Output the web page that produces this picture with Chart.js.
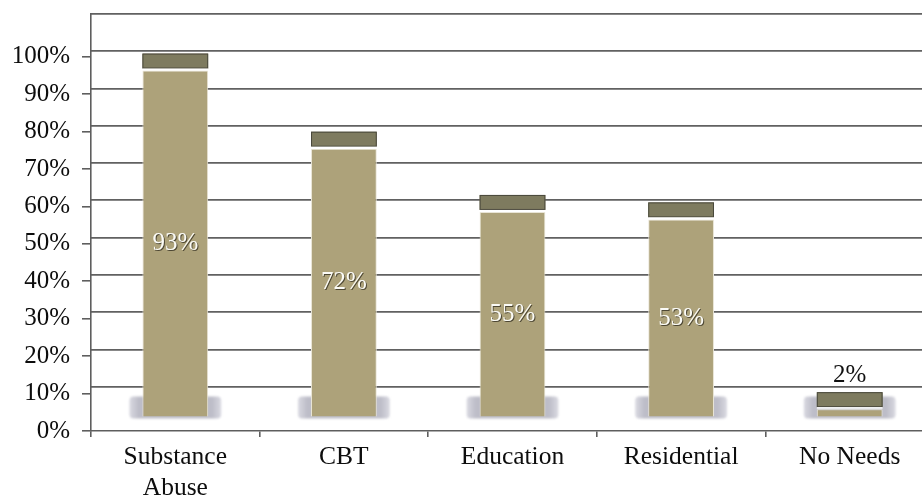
<!DOCTYPE html>
<html>
<head>
<meta charset="utf-8">
<script src="https://cdn.jsdelivr.net/npm/chart.js@4/dist/chart.umd.min.js"></script>
<style>
  html, body { margin: 0; padding: 0; background: #fff; overflow: hidden; }
  canvas { display: block; }
</style>
</head>
<body>
<canvas id="needs-chart" width="934" height="498"></canvas>
<script>
const categories = [['Substance', 'Abuse'], 'CBT', 'Education', 'Residential', 'No Needs'];
const percentages = [93, 72, 55, 53, 2];
const tickStep = 10;
const tickMax = 100;

const serif = '"Liberation Serif", "Times New Roman", serif';

// pedestal shadow behind each column (3D floor look)
const pedestal = {
  id: 'pedestal',
  beforeDatasetsDraw(chart) {
    const ctx = chart.ctx;
    chart.getDatasetMeta(0).data.forEach(bar => {
      const w = bar.width + 26;
      const x = bar.x - w / 2;
      const y = bar.base - 20;
      ctx.save();
      ctx.filter = 'blur(0.8px)';
      const g = ctx.createLinearGradient(x, 0, x + w, 0);
      g.addColorStop(0, '#dadae2');
      g.addColorStop(0.1, '#bdbdc8');
      g.addColorStop(0.9, '#bdbdc8');
      g.addColorStop(1, '#dadae2');
      ctx.fillStyle = g;
      ctx.beginPath();
      ctx.roundRect(x, y, w, 22, 4);
      ctx.fill();
      ctx.restore();
    });
  }
};

// dark top face of the columns and the value labels
const topFace = {
  id: 'topFace',
  afterDatasetsDraw(chart) {
    const ctx = chart.ctx;
    const vals = chart.data.datasets[0].data;
    chart.getDatasetMeta(0).data.forEach((bar, i) => {
      const x = bar.x - bar.width / 2;
      ctx.save();
      ctx.fillStyle = '#7e7b5f';
      ctx.fillRect(x, bar.y - 17, bar.width, 15);
      ctx.strokeStyle = '#4a493c';
      ctx.lineWidth = 1;
      ctx.strokeRect(x + 0.5, bar.y - 16.5, bar.width - 1, 14);
      ctx.fillStyle = '#ffffff';
      ctx.fillRect(x, bar.y - 2, bar.width, 1.5);

      ctx.font = '25px ' + serif;
      ctx.textAlign = 'center';
      ctx.textBaseline = 'middle';
      const txt = vals[i] + '%';
      if (vals[i] > 10) {
        const cy = (bar.y + bar.base) / 2;
        ctx.fillStyle = 'rgba(60,55,40,0.85)';
        ctx.fillText(txt, bar.x + 1, cy + 1);
        ctx.fillStyle = '#fbfbf6';
        ctx.fillText(txt, bar.x, cy);
      } else {
        ctx.fillStyle = '#111';
        ctx.fillText(txt, bar.x, bar.y - 34);
      }
      ctx.restore();
    });
  }
};

new Chart(document.getElementById('needs-chart'), {
  type: 'bar',
  data: {
    labels: categories,
    datasets: [{
      data: percentages,
      yAxisID: 'yb',
      backgroundColor: '#ada27a',
      borderColor: '#e9e5d6',
      borderWidth: 1,
      barPercentage: 0.39,
      categoryPercentage: 1.0
    }]
  },
  options: {
    responsive: false,
    animation: false,
    events: [],
    layout: { padding: { top: 14, left: 0, right: 0, bottom: 0 } },
    plugins: { legend: { display: false }, tooltip: { enabled: false } },
    scales: {
      x: {
        grid: { display: true, drawOnChartArea: false, drawTicks: true, tickLength: 6, color: '#5e5e5e', lineWidth: 1.6, offset: true },
        border: { color: '#5e5e5e', width: 1.6 },
        ticks: { color: '#0d0d0d', font: { family: serif, size: 25.5 }, padding: 5, maxRotation: 0, autoSkip: false },
        afterFit(s) { s.height = 67; s.paddingLeft = 0; s.paddingRight = 0; }
      },
      // front axis carrying the percent labels
      y: {
        position: 'left',
        min: 0,
        max: 111.4,
        grid: { display: true, drawOnChartArea: false, drawTicks: true, tickLength: 9, color: '#5e5e5e', lineWidth: 1.6 },
        border: { color: '#5e5e5e', width: 1.6 },
        ticks: {
          stepSize: tickStep,
          color: '#0d0d0d',
          font: { family: serif, size: 25 },
          padding: 12,
          callback: v => v + '%'
        },
        afterBuildTicks(s) { s.ticks = s.ticks.filter(t => t.value <= tickMax && t.value % tickStep === 0); },
        afterFit(s) { s.width = 91; s.paddingTop = 0; s.paddingBottom = 0; }
      },
      // back-wall gridlines
      yg: {
        position: 'right',
        min: -1.9,
        max: 110,
        grid: { color: '#616161', lineWidth: 1.7, drawTicks: false },
        border: { display: false },
        ticks: { display: false, stepSize: tickStep },
        afterBuildTicks(s) { s.ticks = s.ticks.filter(t => t.value >= tickStep && t.value % tickStep === 0); },
        afterFit(s) { s.width = 0; s.paddingTop = 0; s.paddingBottom = 0; }
      },
      // column depth plane
      yb: {
        display: false,
        min: -3.87,
        max: 108.2
      }
    }
  },
  plugins: [pedestal, topFace]
});
</script>
</body>
</html>
